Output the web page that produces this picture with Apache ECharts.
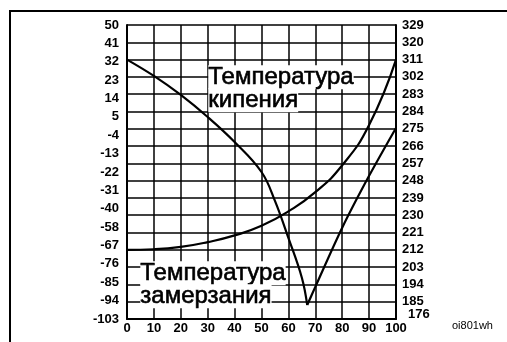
<!DOCTYPE html>
<html>
<head>
<meta charset="utf-8">
<script src="https://cdn.jsdelivr.net/npm/echarts@6/dist/echarts.min.js"></script>
<style>
  html, body { margin: 0; padding: 0; background: #fff; }
  #chart { width: 507px; height: 342px; }
</style>
</head>
<body>
<div id="chart"></div>
<script>
// Tick labels (top to bottom) for the two temperature scales
const leftLabels = ['50', '41', '32', '23', '14', '5', '-4', '-13', '-22', '-31', '-40', '-58', '-67', '-76', '-85', '-94', '-103'];
const rightLabels = ['329', '320', '311', '302', '283', '284', '275', '266', '257', '248', '239', '230', '221', '212', '203', '194', '185', '176'];

// Concentration, % — freezing curve, falling branch down to the eutectic point
const freezeFallPct = [0, 10, 20, 30, 40, 50, 55, 60, 65, 67];
const freezeFallTemp = [32, 23.5, 13.6, 2.1, -10.9, -26.5, -41.5, -60.8, -81.5, -95.7];
// rising branch from the eutectic point
const freezeRisePct = [67, 70, 80, 90, 100];
const freezeRiseTemp = [-95.7, -86.3, -55.5, -28.5, -3.6];

const boilPct = [0, 10, 20, 30, 40, 50, 60, 70, 80, 90, 100];
// Boiling temperature (right scale)
const boilTemp = [212, 212.3, 213.5, 216, 219.5, 224.5, 232, 242, 256, 277, 311];

const xTicks = [0, 10, 20, 30, 40, 50, 60, 70, 80, 90, 100];

const FONT = '"Liberation Sans", Arial, sans-serif';

const chart = echarts.init(document.getElementById('chart'), null, { renderer: 'canvas' });

const labelStyle = { color: '#000', fontFamily: FONT, fontWeight: 'bold', fontSize: 13 };
const captionStyle = { font: '24px ' + FONT, fill: '#000', stroke: '#000', lineWidth: 0.6, backgroundColor: '#fff' };

const pairs = (xs, ys) => xs.map((x, i) => [x, ys[i]]);

chart.setOption({
  animation: false,
  backgroundColor: '#fff',
  grid: { left: 127, top: 25, right: 111, bottom: 23, containLabel: false },
  xAxis: {
    type: 'value',
    min: xTicks[0],
    max: xTicks[xTicks.length - 1],
    interval: 10,
    axisLine: { show: true, onZero: false, lineStyle: { color: '#000', width: 2 } },
    axisTick: { show: false },
    axisLabel: Object.assign({ margin: 3 }, labelStyle),
    splitLine: { show: true, lineStyle: { color: '#000', width: 1.5 } }
  },
  yAxis: [
    {
      type: 'category',
      position: 'left',
      data: leftLabels,
      inverse: true,
      boundaryGap: false,
      axisLine: { show: true, onZero: false, lineStyle: { color: '#000', width: 2 } },
      axisTick: { show: false },
      axisLabel: Object.assign({ margin: 8, interval: 0 }, labelStyle),
      splitLine: { show: false }
    },
    {
      type: 'category',
      position: 'right',
      data: rightLabels,
      inverse: true,
      boundaryGap: false,
      axisLine: { show: true, onZero: false, lineStyle: { color: '#000', width: 2 } },
      axisTick: { show: false },
      axisLabel: Object.assign({
        margin: 6,
        interval: 0,
        align: 'left',
        formatter: function (v, i) {
          return i === rightLabels.length - 1 ? '{low|' + v + '}' : v;
        },
        rich: { low: Object.assign({ padding: [0, 0, 10, 6] }, labelStyle) }
      }, labelStyle),
      splitLine: { show: true, interval: 0, lineStyle: { color: '#000', width: 1.5 } }
    },
    { type: 'value', show: false, min: -103, max: 50 },
    { type: 'value', show: false, min: 176, max: 329 }
  ],
  series: [
    {
      name: 'freeze-fall',
      type: 'line',
      yAxisIndex: 2,
      data: pairs(freezeFallPct, freezeFallTemp),
      showSymbol: false,
      smooth: 0.4,
      lineStyle: { color: '#000', width: 2.2 },
      z: 5
    },
    {
      name: 'freeze-rise',
      type: 'line',
      yAxisIndex: 2,
      data: pairs(freezeRisePct, freezeRiseTemp),
      showSymbol: false,
      smooth: 0.3,
      lineStyle: { color: '#000', width: 2.2 },
      z: 5
    },
    {
      name: 'boil',
      type: 'line',
      yAxisIndex: 3,
      data: pairs(boilPct, boilTemp),
      showSymbol: false,
      smooth: true,
      lineStyle: { color: '#000', width: 2.2 },
      z: 5
    }
  ],
  graphic: [
    // page frame (top and left edges)
    { type: 'rect', shape: { x: 9, y: 10, width: 498, height: 2 }, style: { fill: '#000' }, z: 100 },
    { type: 'rect', shape: { x: 9, y: 10, width: 2, height: 332 }, style: { fill: '#000' }, z: 100 },
    // curve captions
    { type: 'text', left: 208, top: 65, z: 100, style: Object.assign({ text: 'Температура' }, captionStyle) },
    { type: 'text', left: 208, top: 88, z: 100, style: Object.assign({ text: 'кипения' }, captionStyle) },
    { type: 'text', left: 140, top: 261, z: 100, style: Object.assign({ text: 'Температура' }, captionStyle) },
    { type: 'text', left: 140, top: 284, z: 100, style: Object.assign({ text: 'замерзания' }, captionStyle) },
    // figure code
    { type: 'text', left: 452, top: 320, z: 100,
      style: { text: 'oi801wh', font: '11px ' + FONT, fill: '#000' } }
  ]
});
</script>
</body>
</html>
